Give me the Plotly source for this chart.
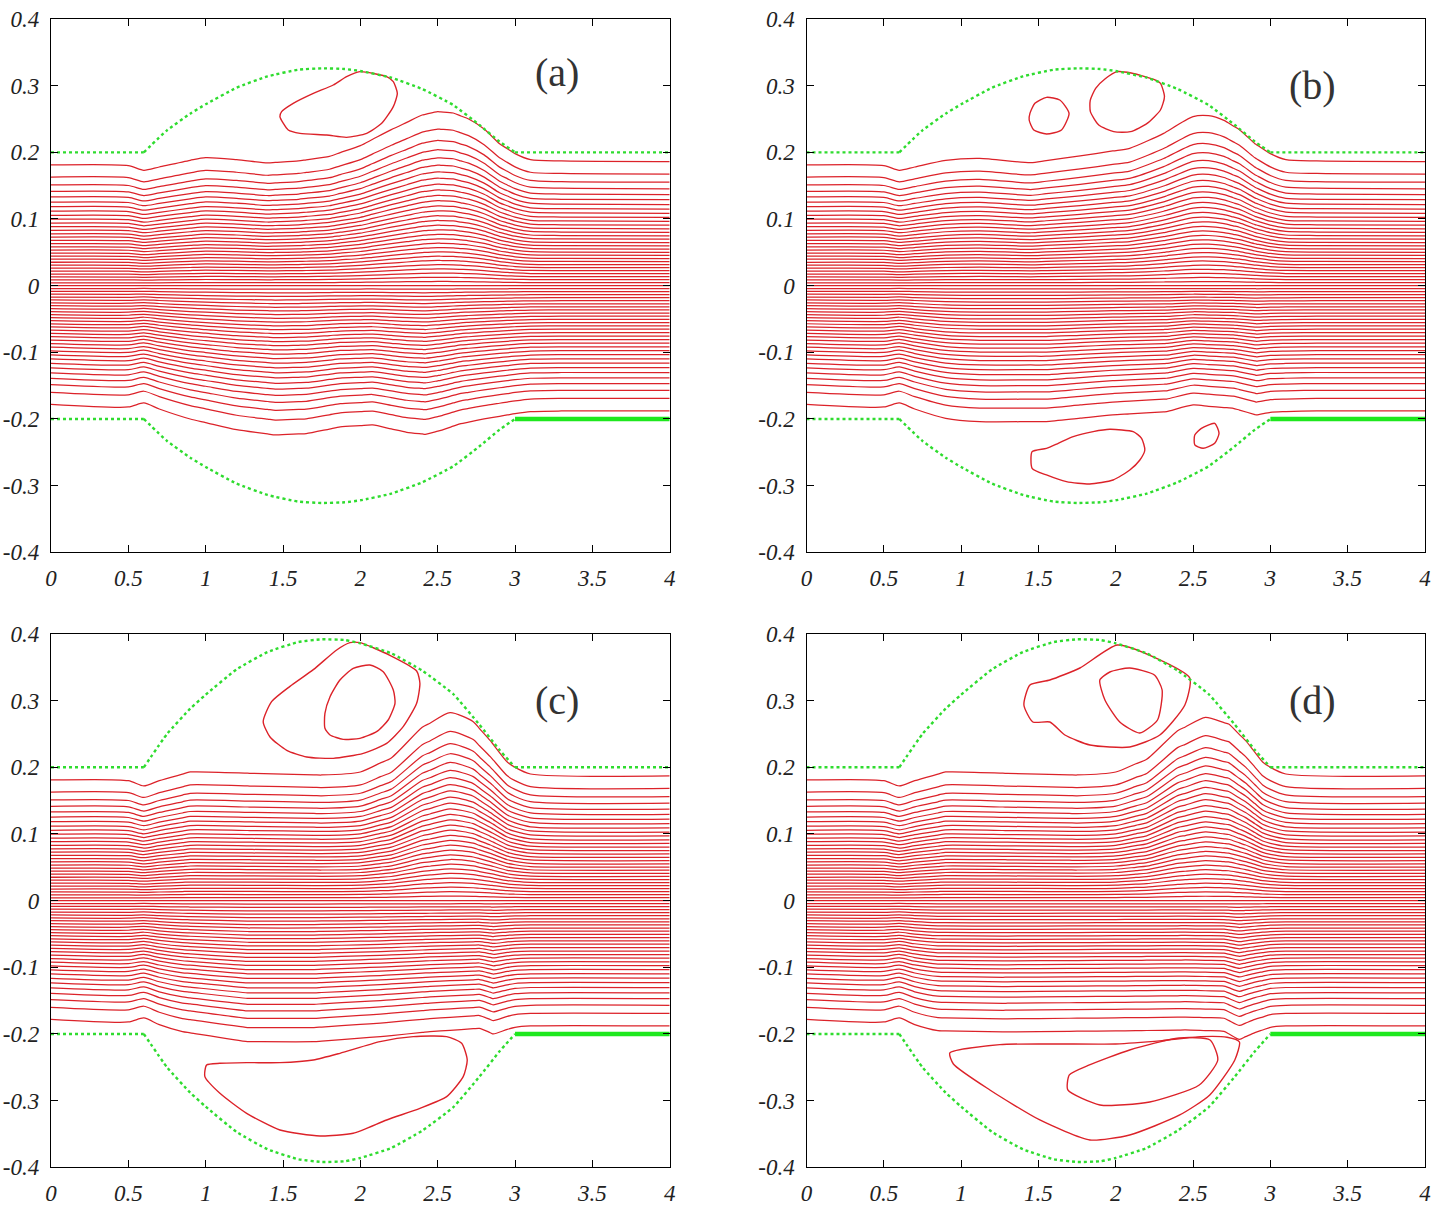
import numpy as np
import plotly.graph_objects as go

# ---------------- data ----------------
x_ticks = [0, 0.5, 1, 1.5, 2, 2.5, 3, 3.5, 4]
x_tick_text = ["0", "0.5", "1", "1.5", "2", "2.5", "3", "3.5", "4"]
y_ticks = [-0.4, -0.3, -0.2, -0.1, 0, 0.1, 0.2, 0.3, 0.4]
y_tick_text = ["-0.4", "-0.3", "-0.2", "-0.1", "0", "0.1", "0.2", "0.3", "0.4"]
panel_labels = ["(a)", "(b)", "(c)", "(d)"]

# walls (upper bulge) ; lower bulge is the mirror image
wall_x = [0.6, 0.75, 0.9, 1.0, 1.2, 1.4, 1.6, 1.75, 1.9, 2.0, 2.2, 2.4, 2.6, 2.77, 2.9, 3.0]
wall_ab = [0.2, 0.233, 0.258, 0.272, 0.297, 0.314, 0.324, 0.326, 0.325, 0.322, 0.312, 0.295, 0.271, 0.241, 0.216, 0.2]
wall_cd = [0.2, 0.25, 0.288, 0.309, 0.347, 0.373, 0.388, 0.392, 0.391, 0.386, 0.371, 0.345, 0.31, 0.264, 0.226, 0.2]

# outermost streamlines (upper U and lower L) per panel
Ua_x = [0, 0.5, 0.6, 0.7, 0.9, 1.0, 1.2, 1.4, 1.6, 1.8, 2.0, 2.2, 2.4, 2.5, 2.6, 2.7, 2.8, 2.9, 3.0, 3.1, 3.3, 4.0]
Ua_y = [0.181, 0.180, 0.173, 0.178, 0.188, 0.192, 0.189, 0.184, 0.187, 0.194, 0.21, 0.234, 0.256, 0.261, 0.259, 0.25, 0.235, 0.213, 0.198, 0.189, 0.187, 0.186]
La_x = [0, 0.5, 0.6, 0.7, 0.9, 1.2, 1.45, 1.65, 1.87, 2.08, 2.3, 2.42, 2.52, 2.65, 2.8, 2.95, 3.0, 3.1, 3.3, 4.0]
La_y = [-0.178, -0.182, -0.176, -0.185, -0.2, -0.216, -0.224, -0.222, -0.212, -0.209, -0.22, -0.223, -0.217, -0.207, -0.2, -0.194, -0.192, -0.189, -0.188, -0.188]

Ub_x = [0, 0.5, 0.6, 0.7, 0.9, 1.12, 1.45, 1.77, 2.09, 2.31, 2.5, 2.6, 2.7, 2.8, 2.9, 3.0, 3.1, 3.3, 4.0]
Ub_y = [0.181, 0.180, 0.173, 0.178, 0.188, 0.191, 0.1845, 0.1945, 0.206, 0.2285, 0.2535, 0.255, 0.248, 0.234, 0.213, 0.198, 0.189, 0.187, 0.186]
Lb_x = [0, 0.5, 0.6, 0.7, 0.9, 1.12, 1.55, 1.98, 2.33, 2.5, 2.76, 2.91, 3.0, 3.1, 3.3, 4.0]
Lb_y = [-0.178, -0.182, -0.176, -0.185, -0.199, -0.204, -0.204, -0.194, -0.189, -0.179, -0.184, -0.194, -0.19, -0.189, -0.188, -0.188]

Uc_x = [0, 0.5, 0.6, 0.7, 0.9, 1.3, 1.75, 2.0, 2.2, 2.4, 2.58, 2.73, 2.84, 2.95, 3.0, 3.1, 4.0]
Uc_y = [0.181, 0.180, 0.172, 0.18, 0.193, 0.191, 0.1885, 0.193, 0.214, 0.26, 0.282, 0.2685, 0.24, 0.208, 0.2, 0.19, 0.187]
Lc_x = [0, 0.5, 0.6, 0.7, 0.85, 1.27, 1.7, 2.13, 2.45, 2.77, 2.86, 2.95, 3.0, 3.1, 4.0]
Lc_y = [-0.178, -0.182, -0.176, -0.186, -0.1965, -0.2115, -0.2115, -0.204, -0.1965, -0.1915, -0.2, -0.193, -0.19, -0.188, -0.188]

Ud_x = [0, 0.5, 0.6, 0.7, 0.9, 1.3, 1.75, 2.0, 2.2, 2.4, 2.58, 2.73, 2.84, 2.95, 3.0, 3.1, 4.0]
Ud_y = [0.181, 0.180, 0.172, 0.18, 0.193, 0.191, 0.1885, 0.193, 0.212, 0.255, 0.275, 0.265, 0.24, 0.208, 0.2, 0.19, 0.187]
Ld_x = [0, 0.5, 0.6, 0.7, 0.85, 1.27, 1.7, 2.13, 2.45, 2.7, 2.8, 2.9, 3.0, 3.1, 4.0]
Ld_y = [-0.178, -0.182, -0.176, -0.186, -0.195, -0.197, -0.196, -0.195, -0.194, -0.196, -0.208, -0.198, -0.19, -0.188, -0.188]

# recirculation eddies (closed curves)
eddy_a1 = ([1.48, 1.534, 1.61, 1.782, 1.911, 2.041, 2.138, 2.213, 2.239, 2.213, 2.17, 1.997, 1.911, 1.825, 1.696, 1.566, 1.491, 1.48],
           [0.2535, 0.2335, 0.2285, 0.226, 0.2225, 0.2285, 0.2435, 0.2685, 0.2885, 0.306, 0.3135, 0.321, 0.3135, 0.301, 0.2885, 0.2735, 0.261, 0.2535])
eddy_b1 = ([1.445, 1.477, 1.552, 1.638, 1.698, 1.649, 1.552, 1.47, 1.44, 1.445],
           [0.2585, 0.2735, 0.2825, 0.2785, 0.2585, 0.2335, 0.2275, 0.2335, 0.2485, 0.2585])
eddy_b2 = ([2.01, 1.93, 1.87, 1.835, 1.836, 1.89, 1.987, 2.095, 2.203, 2.289, 2.315, 2.289, 2.25, 2.1, 2.01],
           [0.321, 0.31, 0.296, 0.278, 0.261, 0.241, 0.231, 0.231, 0.2435, 0.2635, 0.2835, 0.3035, 0.309, 0.319, 0.321])
eddy_b3 = ([1.459, 1.459, 1.552, 1.681, 1.832, 1.983, 2.091, 2.156, 2.188, 2.167, 2.113, 1.962, 1.854, 1.725, 1.628, 1.552, 1.459],
           [-0.249, -0.274, -0.284, -0.294, -0.2975, -0.2915, -0.2765, -0.2615, -0.2465, -0.229, -0.219, -0.2155, -0.219, -0.2265, -0.2365, -0.244, -0.249])
eddy_b4 = ([2.511, 2.554, 2.64, 2.668, 2.64, 2.565, 2.511, 2.511],
           [-0.224, -0.214, -0.2065, -0.2215, -0.2365, -0.244, -0.239, -0.224])
eddy_c1 = ([1.372, 1.426, 1.545, 1.696, 1.847, 1.933, 1.997, 2.191, 2.364, 2.385, 2.364, 2.277, 2.17, 2.019, 1.825, 1.653, 1.524, 1.416, 1.372],
           [0.2685, 0.2985, 0.3215, 0.3465, 0.376, 0.387, 0.387, 0.368, 0.3445, 0.326, 0.296, 0.261, 0.236, 0.221, 0.2135, 0.2155, 0.2255, 0.2455, 0.2685])
eddy_c2 = ([1.771, 1.771, 1.804, 1.868, 1.954, 2.062, 2.148, 2.213, 2.224, 2.18, 2.105, 1.997, 1.889, 1.804, 1.771],
           [0.2585, 0.281, 0.306, 0.331, 0.3485, 0.3535, 0.3435, 0.316, 0.296, 0.271, 0.2535, 0.2435, 0.242, 0.2485, 0.2585])
eddy_c3 = ([1.006, 0.995, 1.092, 1.265, 1.48, 1.739, 1.954, 2.17, 2.385, 2.558, 2.665, 2.691, 2.655, 2.558, 2.342, 2.127, 1.868, 1.696, 1.48, 1.265, 1.092, 1.006],
           [-0.2465, -0.264, -0.289, -0.319, -0.344, -0.353, -0.349, -0.329, -0.3115, -0.294, -0.264, -0.239, -0.214, -0.204, -0.204, -0.2115, -0.229, -0.239, -0.243, -0.243, -0.244, -0.2465])
eddy_d1 = ([2.01, 1.768, 1.574, 1.445, 1.406, 1.464, 1.574, 1.671, 1.833, 2.091, 2.285, 2.447, 2.479, 2.25, 2.01],
           [0.3835, 0.349, 0.331, 0.3235, 0.2935, 0.268, 0.268, 0.2485, 0.2335, 0.2305, 0.2485, 0.2935, 0.334, 0.365, 0.3835])
eddy_d2 = ([1.897, 1.93, 2.026, 2.155, 2.27, 2.3, 2.25, 2.09, 1.962, 1.897],
           [0.331, 0.301, 0.268, 0.2515, 0.271, 0.316, 0.3385, 0.349, 0.343, 0.331])
eddy_d3 = ([0.927, 0.95, 1.186, 1.509, 1.833, 2.09, 2.414, 2.608, 2.77, 2.80, 2.72, 2.55, 2.3, 2.0, 1.6, 1.25, 0.927],
           [-0.2285, -0.245, -0.284, -0.329, -0.359, -0.3515, -0.3215, -0.2915, -0.239, -0.212, -0.205, -0.204, -0.21, -0.215, -0.215, -0.216, -0.2285])
eddy_d4 = ([1.70, 1.69, 1.898, 2.22, 2.54, 2.66, 2.61, 2.41, 2.09, 1.83, 1.70],
           [-0.2615, -0.284, -0.3065, -0.302, -0.2765, -0.239, -0.209, -0.206, -0.224, -0.2465, -0.2615])

# streamfunction levels of the contour plot
psi_levels = np.round(np.arange(-0.99, 0.9901, 0.033), 4)

# ---------------- layout geometry ----------------
W, H = 1448, 1207
col_px = [(51, 669.7), (806.5, 1425)]
row_px = [(19, 552.3), (634, 1167.3)]

panels = [
    dict(U=(Ua_x, Ua_y), L=(La_x, La_y), wall=wall_ab, eddies=[eddy_a1]),
    dict(U=(Ub_x, Ub_y), L=(Lb_x, Lb_y), wall=wall_ab, eddies=[eddy_b1, eddy_b2, eddy_b3, eddy_b4]),
    dict(U=(Uc_x, Uc_y), L=(Lc_x, Lc_y), wall=wall_cd, eddies=[eddy_c1, eddy_c2, eddy_c3]),
    dict(U=(Ud_x, Ud_y), L=(Ld_x, Ld_y), wall=wall_cd, eddies=[eddy_d1, eddy_d2, eddy_d3, eddy_d4]),
]

RED = "#dc2229"
GREEN = "#2fdc2f"
DASH = dict(color=GREEN, width=2.4, dash="3px,3px")

fig = go.Figure()
t_lev = 2 * np.sin(np.arcsin(psi_levels) / 3)
t_out = t_lev.max()


def add_line(xv, yv, line, xa, ya):
    fig.add_trace(go.Scatter(x=xv, y=yv, mode="lines", line=line, xaxis=xa, yaxis=ya,
                             showlegend=False, hoverinfo="skip"))


for i, p in enumerate(panels):
    r, c = divmod(i, 2)
    n = "" if i == 0 else str(i + 1)
    xa, ya = "x" + n, "y" + n
    xs = np.array(sorted(set(p["U"][0]) | set(p["L"][0])))
    U = np.interp(xs, *p["U"])
    L = np.interp(xs, *p["L"])
    sx, sy = [], []
    for t in t_lev:
        y = (t / t_out) * U if t >= 0 else (t / t_out) * (-L)
        sx += list(np.round(xs, 4)) + [None]
        sy += list(np.round(y, 5)) + [None]
    add_line(sx, sy, dict(color=RED, width=1.25, shape="spline", smoothing=0.7), xa, ya)
    ex, ey = [], []
    for e in p["eddies"]:
        ex += list(e[0]) + [None]
        ey += list(e[1]) + [None]
    add_line(ex, ey, dict(color=RED, width=1.4, shape="spline", smoothing=0.6), xa, ya)
    # walls: flat inlet/outlet parts and curved bulges
    add_line([0, 0.6, None, 3.0, 4.0], [0.2, 0.2, None, 0.2, 0.2], DASH, xa, ya)
    add_line([0, 0.6], [-0.2, -0.2], DASH, xa, ya)
    add_line(wall_x, p["wall"], dict(DASH, shape="spline", smoothing=0.4), xa, ya)
    add_line(wall_x, [-v for v in p["wall"]], dict(DASH, shape="spline", smoothing=0.4), xa, ya)
    add_line([3.0, 4.0], [-0.2, -0.2], dict(color="#1ee81e", width=4.5), xa, ya)

    x0, x1 = col_px[c]
    y0, y1 = row_px[r]
    ax_common = dict(showline=True, linecolor="black", linewidth=1.3, mirror="ticks", ticks="inside",
                     ticklen=7, tickwidth=1.3, tickcolor="black", showgrid=False, zeroline=False,
                     automargin=False,
                     tickfont=dict(family="Liberation Serif", size=23, color="#222", style="italic"))
    fig.layout["xaxis" + n] = dict(domain=[x0 / W, x1 / W], anchor=ya, range=[0, 4],
                                   tickvals=x_ticks, ticktext=x_tick_text, ticklabelstandoff=5, **ax_common)
    fig.layout["yaxis" + n] = dict(domain=[1 - y1 / H, 1 - y0 / H], anchor=xa, range=[-0.4, 0.4],
                                   tickvals=y_ticks, ticktext=y_tick_text, ticklabelstandoff=6, **ax_common)
    fig.add_annotation(x=3.27, y=0.32 if i == 0 else 0.30, xref=xa, yref=ya, text=panel_labels[i], showarrow=False,
                       font=dict(family="Liberation Serif", size=40, color="#333"))

fig.update_layout(width=W, height=H, margin=dict(l=0, r=0, t=0, b=0, pad=0, autoexpand=False),
                  paper_bgcolor="white", plot_bgcolor="white")
fig.write_html("out.html")
